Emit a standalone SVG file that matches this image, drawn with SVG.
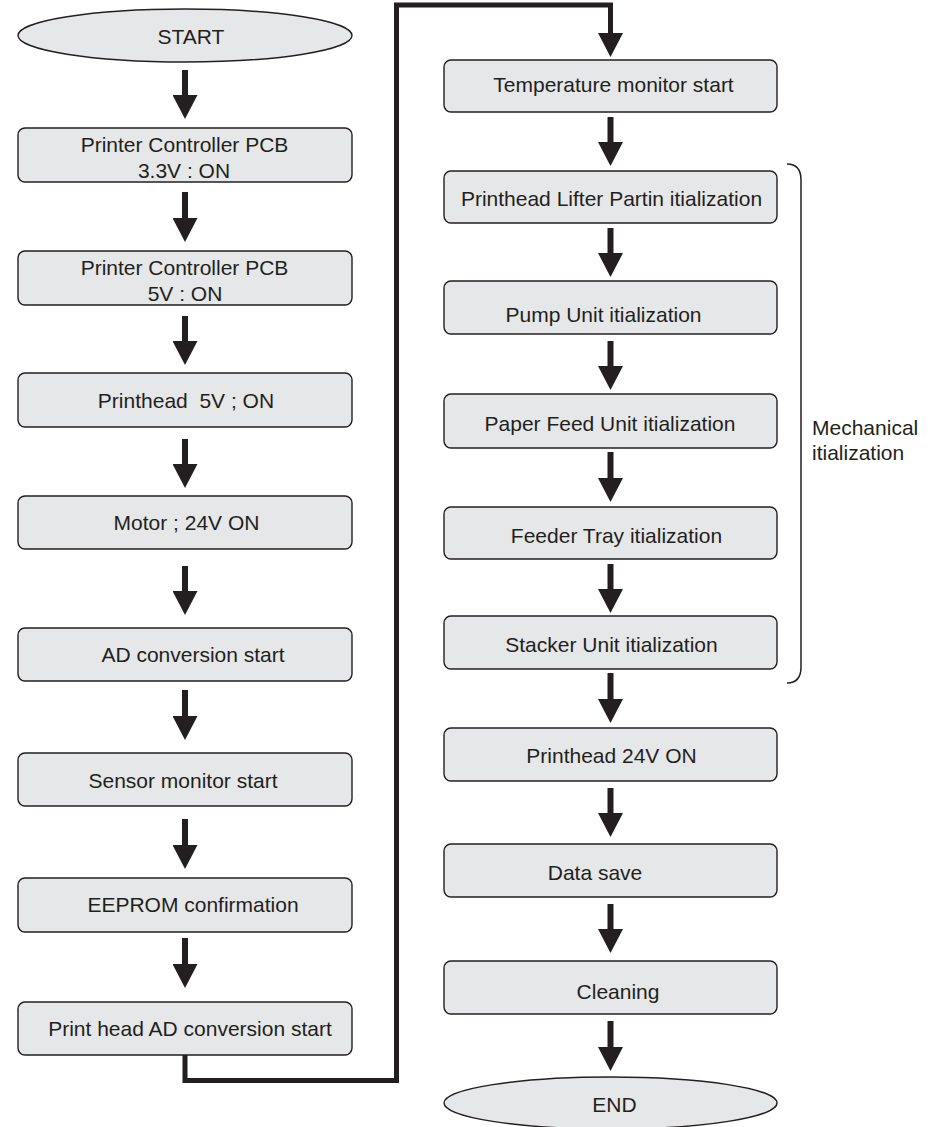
<svg xmlns="http://www.w3.org/2000/svg" width="939" height="1127" viewBox="0 0 939 1127">
<style>
.box{fill:#e6e7e8;stroke:#231f20;stroke-width:1.4}
.t{font-family:"Liberation Sans",Arial,sans-serif;font-size:21px;fill:#231f20;text-anchor:middle}
.ts{font-family:"Liberation Sans",Arial,sans-serif;font-size:21px;fill:#231f20}
.sh{stroke:#231f20;stroke-width:6;fill:none;marker-end:url(#ah)}
.conn{stroke:#231f20;stroke-width:5;fill:none;stroke-linejoin:miter}
.br{stroke:#231f20;stroke-width:1.5;fill:none}
</style>
<defs>
<marker id="ah" markerUnits="userSpaceOnUse" viewBox="0 0 24 25" markerWidth="24" markerHeight="25" refX="0" refY="12.5" orient="auto">
<path d="M0,0 L24,12.5 L0,25 Z" fill="#231f20"/>
</marker>
</defs>
<rect width="939" height="1127" fill="#ffffff"/>
<g id="connectors">
<path class="conn" d="M185,1055 L185,1080.5 L396.5,1080.5 L396.5,5 L610.5,5 L610.5,33" marker-end="url(#ah)"/>
<line class="sh" x1="185" y1="70" x2="185" y2="95"/>
<line class="sh" x1="185" y1="192" x2="185" y2="218"/>
<line class="sh" x1="185" y1="316" x2="185" y2="341"/>
<line class="sh" x1="185" y1="439" x2="185" y2="464"/>
<line class="sh" x1="185" y1="566" x2="185" y2="591"/>
<line class="sh" x1="185" y1="690" x2="185" y2="716"/>
<line class="sh" x1="185" y1="819" x2="185" y2="845"/>
<line class="sh" x1="185" y1="938" x2="185" y2="964"/>
<line class="sh" x1="610.5" y1="117" x2="610.5" y2="142"/>
<line class="sh" x1="610.5" y1="228" x2="610.5" y2="253"/>
<line class="sh" x1="610.5" y1="341" x2="610.5" y2="366"/>
<line class="sh" x1="610.5" y1="452" x2="610.5" y2="478"/>
<line class="sh" x1="610.5" y1="564" x2="610.5" y2="589"/>
<line class="sh" x1="610.5" y1="673" x2="610.5" y2="699"/>
<line class="sh" x1="610.5" y1="788" x2="610.5" y2="813"/>
<line class="sh" x1="610.5" y1="904" x2="610.5" y2="929"/>
<line class="sh" x1="610.5" y1="1021" x2="610.5" y2="1047"/>
</g>
<g id="start"><ellipse class="box" cx="185" cy="35.5" rx="167" ry="26.5"/><text class="t" x="191" y="44">START</text></g>
<g id="n1"><rect class="box" x="18" y="128" width="334" height="54" rx="7"/><text class="t" x="184.5" y="152">Printer Controller PCB</text><text class="t" x="184" y="178">3.3V : ON</text></g>
<g id="n2"><rect class="box" x="18" y="251" width="334" height="54" rx="7"/><text class="t" x="184.5" y="275">Printer Controller PCB</text><text class="t" x="185" y="301">5V : ON</text></g>
<g id="n3"><rect class="box" x="18" y="373" width="334" height="54" rx="7"/><text class="t" x="186" y="408" xml:space="preserve">Printhead  5V ; ON</text></g>
<g id="n4"><rect class="box" x="18" y="496" width="334" height="53" rx="7"/><text class="t" x="186.5" y="530">Motor ; 24V ON</text></g>
<g id="n5"><rect class="box" x="18" y="628" width="334" height="53" rx="7"/><text class="t" x="193" y="662">AD conversion start</text></g>
<g id="n6"><rect class="box" x="18" y="753" width="334" height="53" rx="7"/><text class="t" x="183" y="788">Sensor monitor start</text></g>
<g id="n7"><rect class="box" x="18" y="878" width="334" height="54" rx="7"/><text class="t" x="193" y="912">EEPROM confirmation</text></g>
<g id="n8"><rect class="box" x="18" y="1002" width="334" height="53" rx="7"/><text class="t" x="190" y="1036">Print head AD conversion start</text></g>
<g id="n9"><rect class="box" x="444" y="60" width="333" height="52" rx="7"/><text class="t" x="613.5" y="92">Temperature monitor start</text></g>
<g id="n10"><rect class="box" x="444" y="171" width="333" height="52" rx="7"/><text class="t" x="611.5" y="206">Printhead Lifter Partin itialization</text></g>
<g id="n11"><rect class="box" x="444" y="281" width="333" height="53" rx="7"/><text class="t" x="603.5" y="322">Pump Unit itialization</text></g>
<g id="n12"><rect class="box" x="444" y="394" width="333" height="54" rx="7"/><text class="t" x="610" y="431">Paper Feed Unit itialization</text></g>
<g id="n13"><rect class="box" x="444" y="507" width="333" height="52" rx="7"/><text class="t" x="616.5" y="543">Feeder Tray itialization</text></g>
<g id="n14"><rect class="box" x="444" y="616" width="333" height="53" rx="7"/><text class="t" x="611.5" y="652">Stacker Unit itialization</text></g>
<g id="n15"><rect class="box" x="444" y="728" width="333" height="53" rx="7"/><text class="t" x="611.5" y="763">Printhead 24V ON</text></g>
<g id="n16"><rect class="box" x="444" y="844" width="333" height="53" rx="7"/><text class="t" x="595" y="880">Data save</text></g>
<g id="n17"><rect class="box" x="444" y="961" width="333" height="53" rx="7"/><text class="t" x="618" y="999">Cleaning</text></g>
<g id="end"><ellipse class="box" cx="610.5" cy="1103" rx="166.5" ry="26"/><text class="t" x="614.5" y="1112">END</text></g>
<g id="mech">
<path class="br" d="M787,164 Q801,164 801,180 L801,667 Q801,683 787,683"/>
<text class="ts" x="812" y="435">Mechanical</text>
<text class="ts" x="812" y="460">itialization</text>
</g>
</svg>
